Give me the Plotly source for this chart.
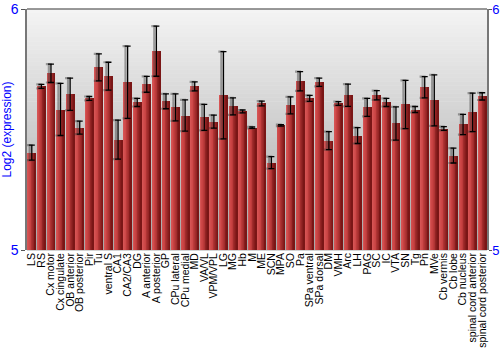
import numpy as np
import plotly.graph_objects as go

regions = ["LS", "RS", "Cx motor", "Cx cingulate", "OB anterior", "OB posterior", "Pir", "Tu",
           "ventral S", "CA1", "CA2/CA3", "DG", "A anterior", "A posterior", "GP", "CPu lateral",
           "CPu medial", "MD", "VA/VL", "VPM/VPL", "LG", "MG", "Hb", "M", "ME", "SCN", "MPA", "SO",
           "Pa", "SPa ventral", "SPa dorsal", "DM", "VMH", "Arc", "LH", "PAG", "SC", "IC", "VTA",
           "SN", "Tg", "Pn", "MVe", "Cb vermis", "Cb lobe", "Cb nucleus", "spinal cord anterior",
           "spinal cord posterior"]
expression = [5.404, 5.679, 5.733, 5.583, 5.646, 5.508, 5.629, 5.758,
              5.721, 5.458, 5.696, 5.6125, 5.6875, 5.825, 5.617, 5.592,
              5.558, 5.679, 5.55, 5.533, 5.642, 5.596, 5.575, 5.508, 5.608, 5.3625, 5.517, 5.6,
              5.7, 5.629, 5.696, 5.454, 5.608, 5.642, 5.475, 5.592, 5.642, 5.6125, 5.525,
              5.604, 5.583, 5.675, 5.621, 5.504, 5.392, 5.521, 5.571,
              5.6375]
error = [0.031, 0.008, 0.038, 0.108, 0.067, 0.027, 0.008, 0.056,
         0.058, 0.081, 0.15, 0.017, 0.033, 0.104, 0.031, 0.056,
         0.065, 0.019, 0.054, 0.027, 0.181, 0.035, 0.006, 0.003, 0.01, 0.025, 0.003, 0.035,
         0.04, 0.0125, 0.017, 0.0375, 0.008, 0.046, 0.033, 0.0375, 0.019, 0.017, 0.069,
         0.1, 0.0125, 0.044, 0.106, 0.008, 0.031, 0.042, 0.08,
         0.015]
y_range = [5, 6]
y_ticks = [5, 6]

x = np.arange(len(regions))
fig = go.Figure()

# pale outline bar
fig.add_trace(go.Bar(x=x, y=expression, width=0.92, marker=dict(color="rgba(225,150,150,0.75)", line=dict(width=0)),
                     hoverinfo="skip", showlegend=False))
# horizontal gradient strips
n = 10
bw = 0.82
c0 = np.array([214, 84, 84])
c1 = np.array([200, 66, 66])
c2 = np.array([122, 22, 22])
for k in range(n):
    t = k / (n - 1)
    if t < 0.35:
        c = c0 + (c1 - c0) * (t / 0.35)
    else:
        c = c1 + (c2 - c1) * ((t - 0.35) / 0.65)
    col = "rgb(%d,%d,%d)" % tuple(c.astype(int))
    fig.add_trace(go.Bar(x=x, y=expression, width=bw / n + 0.005, offset=-bw / 2 + k * bw / n,
                         marker=dict(color=col, line=dict(width=0)), hoverinfo="skip", showlegend=False))

# error bar shadow
fig.add_trace(go.Scatter(x=x - 0.22, y=expression, mode="markers", marker=dict(size=0.1, color="rgba(0,0,0,0)"),
                         error_y=dict(type="data", array=error, color="rgba(60,60,60,0.45)", thickness=2.2, width=3),
                         hoverinfo="skip", showlegend=False))
fig.add_trace(go.Scatter(x=x, y=expression, mode="markers", marker=dict(size=0.1, color="rgba(0,0,0,0)"),
                         error_y=dict(type="data", array=error, color="black", thickness=1.3, width=3),
                         hoverinfo="skip", showlegend=False))
# dummy for right axis
fig.add_trace(go.Scatter(x=[x[0]], y=[y_range[0]], yaxis="y2", mode="markers",
                         marker=dict(color="rgba(0,0,0,0)"), hoverinfo="skip", showlegend=False))

# background gradient
shapes = []
m = 60
top = np.array([244, 244, 244])
bot = np.array([168, 168, 168])
for i in range(m):
    t = i / (m - 1)
    c = top + (bot - top) * t
    shapes.append(dict(type="rect", xref="paper", yref="paper", x0=0, x1=1,
                       y1=1 - i / m, y0=1 - (i + 1) / m - 0.002,
                       fillcolor="rgb(%d,%d,%d)" % tuple(c.astype(int)), line=dict(width=0), layer="below"))
shapes.append(dict(type="line", xref="paper", yref="paper", x0=0, x1=1, y0=1, y1=1,
                   line=dict(color="#777777", width=1.5)))

fig.update_layout(
    width=500, height=350,
    margin=dict(l=27, r=13, t=9, b=100),
    paper_bgcolor="white", plot_bgcolor="rgba(0,0,0,0)",
    barmode="overlay", bargap=0,
    shapes=shapes,
    font=dict(family="Liberation Sans, Arial, sans-serif"),
    xaxis=dict(range=[-0.5, len(regions) - 0.5], tickmode="array", tickvals=x, ticktext=regions,
               tickangle=-90, tickfont=dict(size=10.5, color="black"), ticks="", showgrid=False,
               zeroline=False, showline=False, automargin=False),
    yaxis=dict(range=y_range, tickvals=y_ticks, tickfont=dict(size=14, color="blue"),
               ticks="outside", ticklen=4, tickcolor="#555555", showgrid=False, zeroline=False,
               showline=True, linecolor="#777777", linewidth=1.5, automargin=False,
               title=dict(text="Log2 (expression)", font=dict(size=12, color="blue"), standoff=0)),
    yaxis2=dict(range=y_range, tickvals=y_ticks, tickfont=dict(size=13, color="blue"), overlaying="y",
                side="right", ticks="outside", ticklen=3, tickcolor="#555555", showgrid=False,
                ticklabelstandoff=-2,
                zeroline=False, showline=True, linecolor="#777777", linewidth=1.5, automargin=False),
)

fig.write_html("out.html")
